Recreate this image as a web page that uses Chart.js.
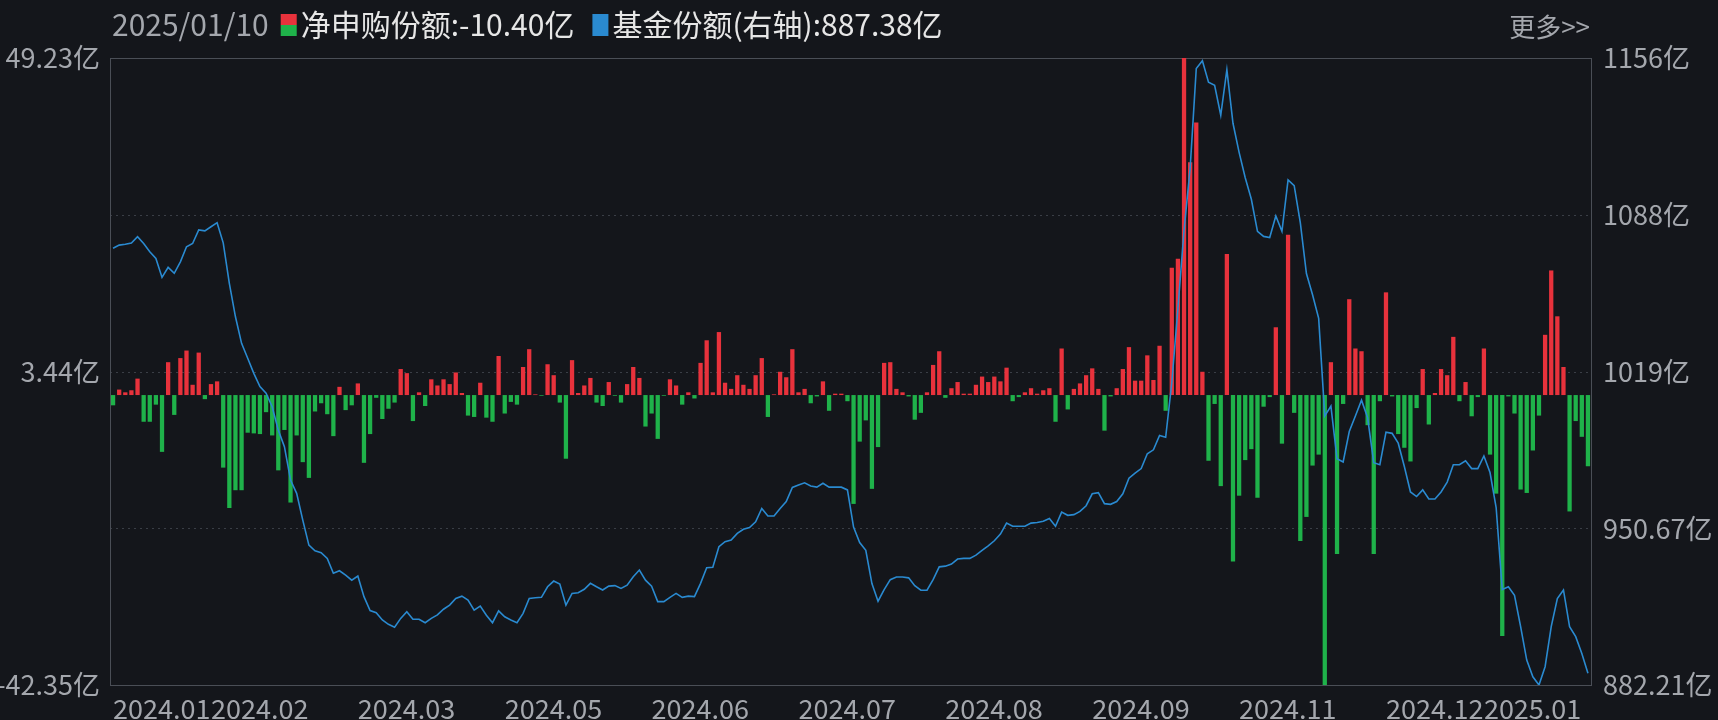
<!DOCTYPE html>
<html><head><meta charset="utf-8">
<script src="https://cdn.jsdelivr.net/npm/chart.js@4"></script>
<style>html,body{margin:0;padding:0;background:#14161b;}#wrap{width:1718px;height:720px;}</style>
</head><body><div id="wrap"><canvas id="c" width="1718" height="720"></canvas></div>
<script>
// ---- data (亿) ----
const netSub = [
-1.5,0.8,0.4,0.7,2.4,-3.9,-3.9,-1.4,-8.3,4.8,-2.9,5.4,6.5,1.5,6.2,-0.6,1.6,2.0,-10.6,-16.5,
-13.9,-13.9,-5.5,-5.6,-5.7,-2.5,-5.9,-11,-5.1,-15.7,-5.9,-9.8,-12.1,-2.4,-1.2,-2.8,-6.0,1.2,-2.2,-1.5,
1.7,-9.9,-5.7,-0.4,-3.5,-2.0,-1.1,3.8,3.2,-3.8,0.4,-1.6,2.3,1.4,2.3,1.6,3.3,
0.3,-3.0,-3.2,1.8,-3.3,-3.9,5.7,-2.7,-1.0,-1.4,4.1,6.7,0.1,-0.1,4.5,2.9,-1.1,-9.3,5.1,0.3,
1.4,2.5,-1.1,-1.6,1.9,-0.1,-1.1,1.6,4.1,2.5,-4.6,-2.7,-6.4,-0.1,2.3,1.4,-1.4,0.4,-0.5,4.7,
8.0,0.4,9.2,1.8,0.9,2.9,1.5,0.9,2.9,5.4,-3.2,0.1,3.4,2.6,6.7,0.4,0.9,-1.2,
-0.2,2.0,-2.3,0.2,0.2,-0.9,-15.9,-6.8,-3.7,-13.7,-7.6,4.7,4.8,0.9,0.4,-0.2,-3.6,-2.6,0.4,4.4,
6.4,-0.4,1.0,1.9,0.2,0.2,1.5,2.7,1.9,2.7,2.0,4.0,-0.9,-0.3,0.4,1.0,0.2,0.7,1.0,-3.9,
6.8,-2.1,0.9,1.7,2.9,3.9,0.9,-5.2,-0.2,1.0,3.8,7.0,2.1,2.1,5.8,2.2,7.2,
-2.3,18.6,19.9,52,34.0,39.8,3.4,-9.6,-1.3,-13.3,20.6,-24.3,-14.7,-9.5,-7.9,-15.0,-1.7,-0.3,9.9,-7.1,
23.4,-2.6,-21.3,-17.8,-10.3,-8.7,-45,4.8,-23.2,-1.3,14.0,6.8,6.4,-4.4,-23.2,-0.9,15.0,-0.2,-5.7,-7.7,
-9.7,-1.9,3.8,-4.3,0.3,3.8,2.9,8.5,-0.9,1.9,-3.1,-0.3,6.8,-8.7,-14.4,-35.2,-0.2,-2.7,-13.8,-14.3,
-8.1,-3.0,8.8,18.2,11.5,4.1,-17.0,-3.8,-6.1,-10.4
];
const fundShares = [
1072.9,1074.3,1074.7,1075.2,1078,1075,1071.4,1068.5,1060.2,1064.6,1062,1067,1073.6,1075,1080.9,1080.5,1082.3,1084.1,1075.3,1057.6,
1043,1031.4,1024.9,1018.3,1012.5,1009.6,1003.7,993.5,986.3,971.7,965.9,954.2,943.3,940.8,940,937.5,931,932.1,930.2,928,
929.8,920.8,914.7,913.8,910.6,908.7,907.4,911.3,914.2,910.9,910.9,909.4,911.3,912.8,915.3,917.1,920,
921.0,919.3,914.9,916.7,912.7,909.4,914.6,912.0,910.6,909.4,913.5,920.0,920.3,920.5,925.1,927.6,926.3,917.1,922.2,922.5,
924.0,926.6,925.1,923.7,925.4,925.6,924.4,925.8,929.5,932.4,928.0,925.4,918.6,918.6,920.5,922.2,920.5,921.0,920.8,926.6,
933.4,933.6,942.6,944.8,945.5,948.4,950.2,951.0,953.5,959.3,956.0,956.0,959.3,962.3,968.5,969.5,970.5,969.1,
968.6,970.3,968.6,968.6,968.6,967.4,951.2,944.4,941.0,926.5,918.8,923.9,928.2,929.4,929.4,929.0,925.6,923.6,923.6,928.2,
933.8,934.1,935.0,937.2,937.5,937.5,938.9,941.0,943.0,945.2,948.1,952.9,951.5,951.5,951.5,952.9,953.2,953.7,954.9,951.5,
957.7,956.3,956.6,958.0,960.5,965.7,966.2,961.4,961.1,962.3,965.7,972.5,974.7,976.7,983.2,984.9,991.2,
990.4,1014.2,1046.6,1080.7,1107.9,1151.4,1154.8,1145.4,1144.1,1131.0,1150.9,1127.5,1114.8,1103.7,1094.3,1080.3,1078.1,1077.6,1087.0,1080.3,
1102.8,1100.3,1084.1,1061.9,1052.6,1042.3,999.7,1004.0,981.0,979.6,992.9,999.7,1006.6,998.9,979.3,978.4,992.6,992.1,987.8,977.6,
966.5,964.5,967.4,963.4,963.4,966.5,970.8,978.4,978.4,980.1,976.7,976.7,982.2,975.0,959.7,923.9,925.1,921.4,907.7,893.1,
885.8,882.2,890.2,907.7,920.0,923.7,907.7,903.3,896.0,887.38
];
const tickIdx  = [0,16,40,64,88,112,136,160,184,208,224];
const tickText = ['2024.01','2024.02','2024.03','2024.05','2024.06','2024.07','2024.08','2024.09','2024.11','2024.12','2025.01'];
const leftRange  = [-42.35, 49.23];
const leftTickText = ['-42.35亿','3.44亿','49.23亿'];
const rightRange = [882.21, 1156];
const rightTickText = ['882.21亿','950.67亿','1019亿','1088亿','1156亿'];
const headerDate = '2025/01/10';
const headerNet = '净申购份额:-10.40亿';
const headerFund = '基金份额(右轴):887.38亿';
const categories = netSub.map((_, i) => i);

const FONT = "'Noto Sans CJK SC','Noto Sans',sans-serif";
const RED = '#e8323c', GREEN = '#1fb24a', BLUE = '#2a8ad0', GREY = '#a4a7ad', FRAME = '#3a3e46';

const framePlugin = {
  id: 'frame',
  beforeDatasetsDraw(chart) {
    const {ctx, chartArea: a} = chart;
    ctx.save();
    ctx.strokeStyle = FRAME; ctx.lineWidth = 1;
    ctx.setLineDash([2, 4]);
    for (let q = 1; q < 4; q++) {
      const y = Math.round(a.top + (a.bottom - a.top) * q / 4) + 0.5;
      ctx.beginPath(); ctx.moveTo(a.left, y); ctx.lineTo(a.right, y); ctx.stroke();
    }
    ctx.setLineDash([]);
    ctx.strokeStyle = '#4a4e56';
    ctx.strokeRect(Math.round(a.left) + 0.5, Math.round(a.top) + 0.5, Math.round(a.right - a.left), Math.round(a.bottom - a.top));
    ctx.restore();
  },
  afterDraw(chart) {
    const {ctx} = chart;
    ctx.save();
    ctx.font = '30px ' + FONT; ctx.textBaseline = 'middle';
    let x = 112; const y = 25;
    ctx.fillStyle = GREY; ctx.fillText(headerDate, x, y);
    x += ctx.measureText(headerDate).width + 12;
    ctx.fillStyle = RED; ctx.fillRect(x, 14, 16, 11);
    ctx.fillStyle = GREEN; ctx.fillRect(x, 25, 16, 11);
    x += 20;
    ctx.fillStyle = '#e6e6e6'; ctx.fillText(headerNet, x, y);
    x += ctx.measureText(headerNet).width + 18;
    ctx.fillStyle = BLUE; ctx.fillRect(x, 14, 16, 22);
    x += 20;
    ctx.fillStyle = '#e6e6e6'; ctx.fillText(headerFund, x, y);
    ctx.fillStyle = GREY; ctx.font = '26px ' + FONT; ctx.textAlign = 'right';
    ctx.fillText('更多>>', 1590, 27);
    ctx.restore();
  }
};

new Chart(document.getElementById('c'), {
  data: {
    labels: categories,
    datasets: [
      { type: 'line', data: fundShares, yAxisID: 'yR', borderColor: BLUE, borderWidth: 1.6,
        pointRadius: 0, tension: 0, order: 0 },
      { type: 'bar', data: netSub, yAxisID: 'yL', order: 1,
        backgroundColor: c => (c.raw >= 0 ? RED : GREEN),
        barPercentage: 0.7, categoryPercentage: 1.0 }
    ]
  },
  options: {
    responsive: false, animation: false, devicePixelRatio: 1,
    layout: { padding: { top: 58, left: 0, right: 0, bottom: 0 } },
    plugins: { legend: { display: false }, tooltip: { enabled: false } },
    scales: {
      x: {
        offset: true, grid: { display: false }, border: { display: false },
        afterFit: s => { s.height = 35; },
        ticks: { autoSkip: false, maxRotation: 0, minRotation: 0, align: 'start', padding: 0,
          color: GREY, font: { family: FONT, size: 27 },
          callback: (v, i) => { const k = tickIdx.indexOf(i); return k >= 0 ? tickText[k] : ''; } }
      },
      yL: {
        position: 'left', min: leftRange[0], max: leftRange[1],
        grid: { display: false }, border: { display: false },
        afterFit: s => { s.width = 110; },
        afterBuildTicks: s => { s.ticks = [leftRange[0], (leftRange[0] + leftRange[1]) / 2, leftRange[1]].map(v => ({ value: v })); },
        ticks: { color: GREY, font: { family: FONT, size: 27 }, padding: 2,
          callback: (v, i) => leftTickText[i] }
      },
      yR: {
        position: 'right', min: rightRange[0], max: rightRange[1],
        grid: { display: false }, border: { display: false },
        afterFit: s => { s.width = 127; },
        afterBuildTicks: s => { s.ticks = [0,1,2,3,4].map(q => ({ value: rightRange[0] + (rightRange[1] - rightRange[0]) * q / 4 })); },
        ticks: { color: GREY, font: { family: FONT, size: 27 }, padding: 4,
          callback: (v, i) => rightTickText[i] }
      }
    }
  },
  plugins: [framePlugin]
});
</script></body></html>
